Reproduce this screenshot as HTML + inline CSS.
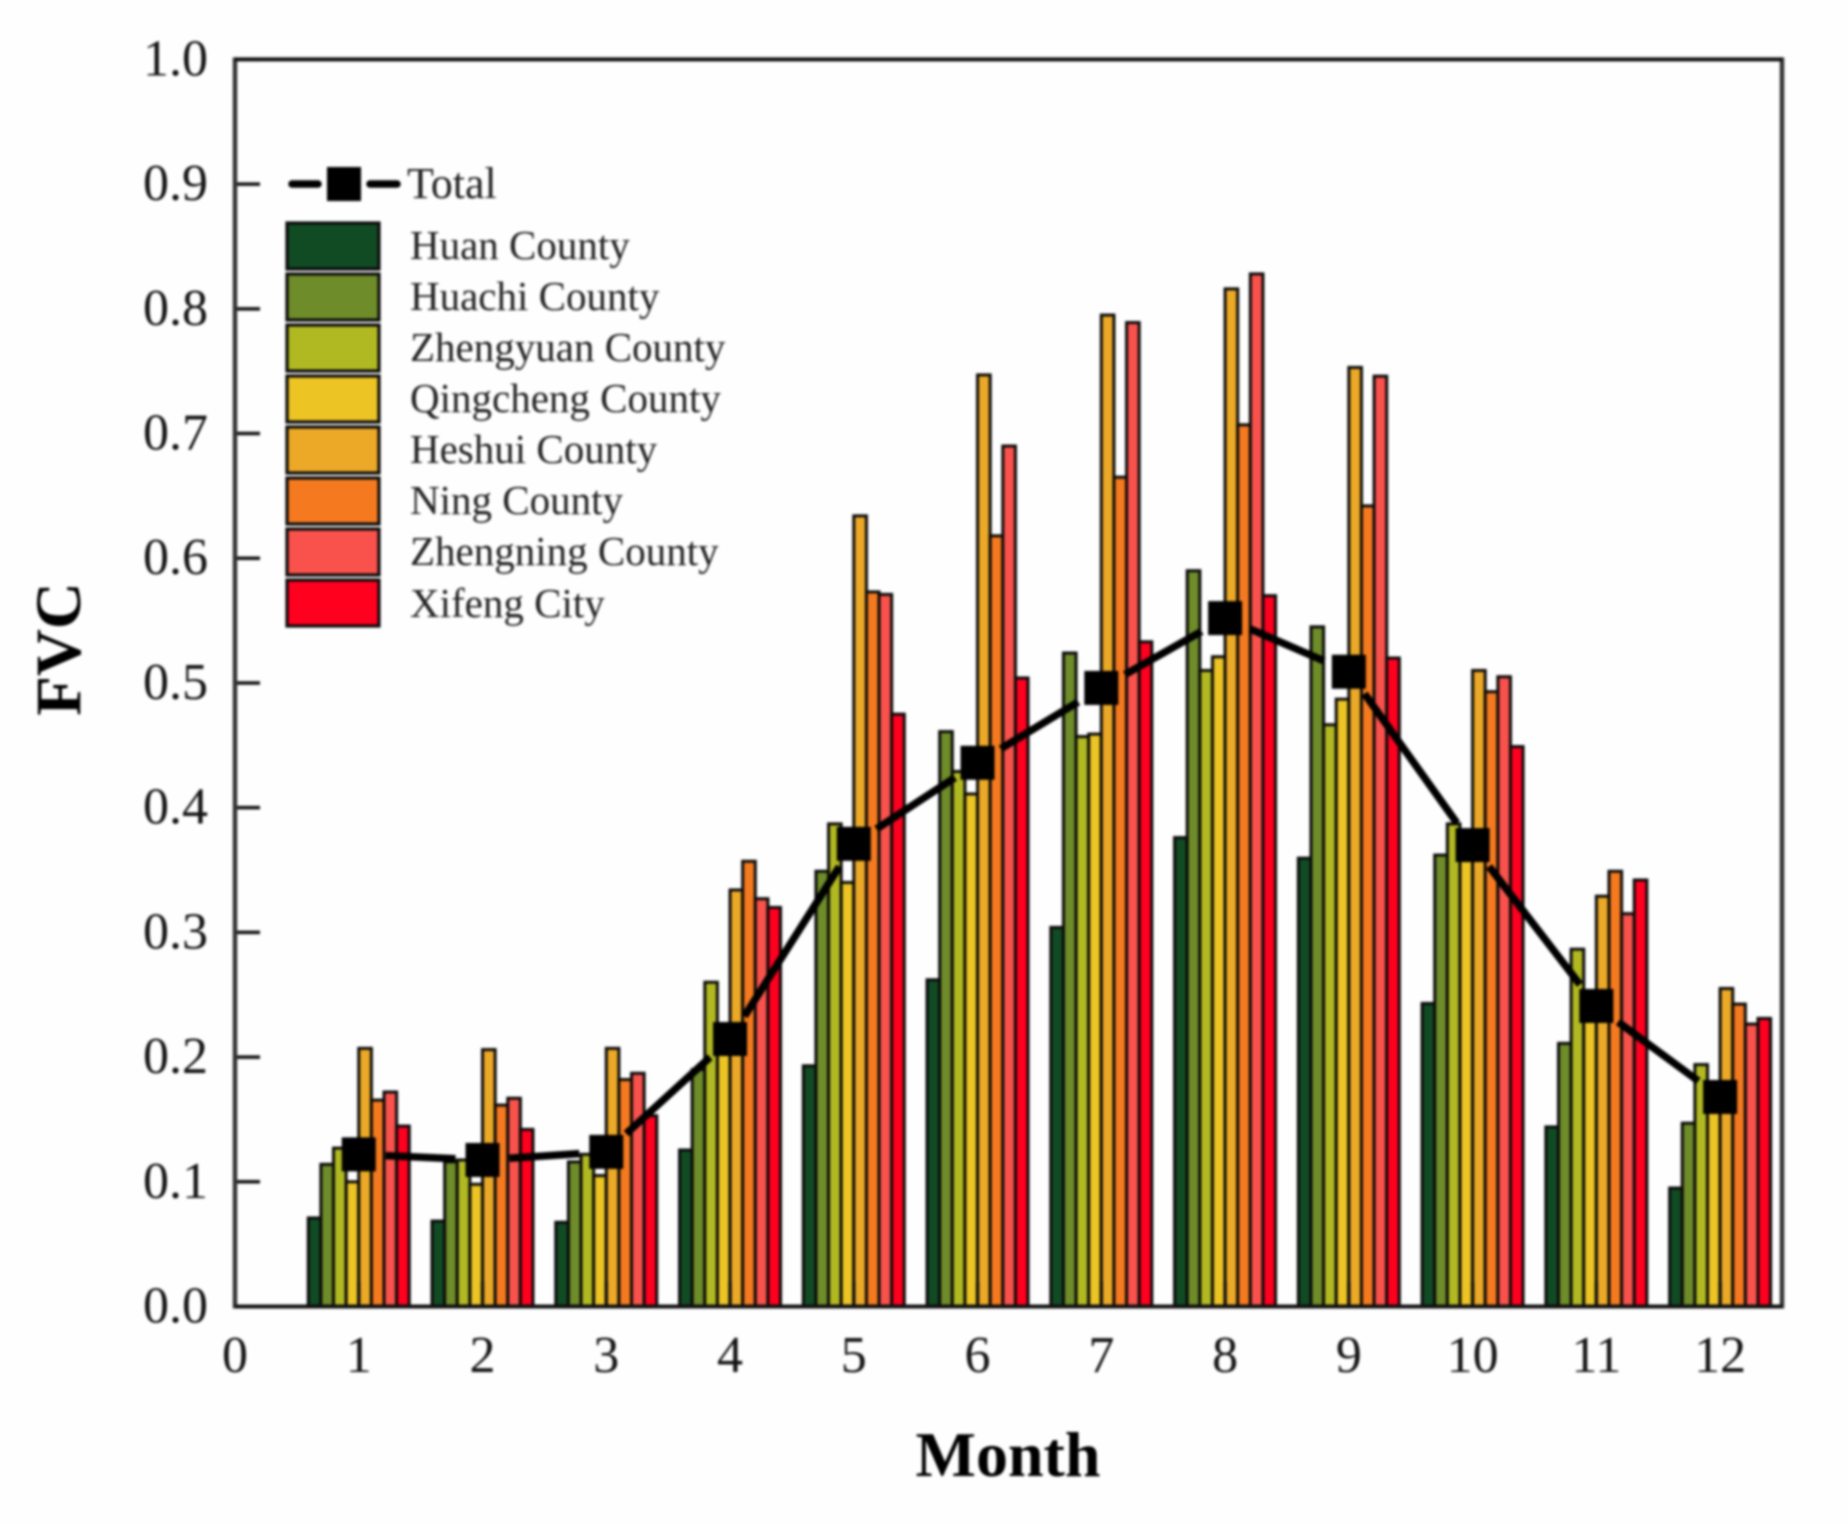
<!DOCTYPE html>
<html lang="en">
<head>
<meta charset="utf-8">
<title>FVC by Month</title>
<style>
  html, body { margin: 0; padding: 0; background: #fefefe; }
  body { width: 1848px; height: 1524px; overflow: hidden; }
  #chart { display: block; width: 1848px; height: 1524px; filter: blur(1.25px); }
  text { font-family: "Liberation Serif", "Times New Roman", serif; fill: #141414; }
  .tick-label { font-size: 52px; }
  .legend-label { font-size: 41px; fill: #222; }
  .axis-title { font-size: 64px; font-weight: bold; fill: #000; }
  .bar, .swatch { stroke: #0a0a0a; stroke-width: 3; }
  .swatch { stroke-width: 3.2; }
  .s0 { fill: #114b24; } .s1 { fill: #6e8c29; } .s2 { fill: #b1b922; } .s3 { fill: #ecc424; }
  .s4 { fill: #eca927; } .s5 { fill: #f57a1f; } .s6 { fill: #f9524c; } .s7 { fill: #ff001f; }
  .tick { stroke: #111; stroke-width: 3.5; }
  .total-line { stroke: #000; stroke-width: 7.5; fill: none; }
  .total-marker { fill: #000; }
</style>
</head>
<body>
<svg id="chart" xmlns="http://www.w3.org/2000/svg" width="1848" height="1524" viewBox="0 0 1848 1524">
  <rect x="0" y="0" width="1848" height="1524" fill="#fefefe"></rect>
  <g id="bars"></g>
  <g id="axes"></g>
  <g id="total-series"></g>

  <text class="axis-title" x="1008" y="1476" text-anchor="middle">Month</text>
  <text class="axis-title" style="font-size:65px" transform="translate(80 649) rotate(-90)" text-anchor="middle">FVC</text>

  <g>
    <g>
      <line class="total-line" x1="292" y1="184" x2="318" y2="184" stroke-linecap="round"></line>
      <line class="total-line" x1="370" y1="184" x2="397" y2="184" stroke-linecap="round"></line>
      <rect class="total-marker" x="327" y="167" width="34" height="34"></rect>
      <text class="legend-label" style="font-size:44px" x="407" y="198">Total</text>
    </g>
    <g>
      <rect class="swatch s0" x="287" y="223" width="92" height="46"></rect>
      <text class="legend-label" x="410" y="259">Huan County</text>
    </g>
    <g>
      <rect class="swatch s1" x="287" y="274" width="92" height="46"></rect>
      <text class="legend-label" x="410" y="310">Huachi County</text>
    </g>
    <g>
      <rect class="swatch s2" x="287" y="325" width="92" height="46"></rect>
      <text class="legend-label" x="410" y="361">Zhengyuan County</text>
    </g>
    <g>
      <rect class="swatch s3" x="287" y="376" width="92" height="46"></rect>
      <text class="legend-label" x="410" y="412">Qingcheng County</text>
    </g>
    <g>
      <rect class="swatch s4" x="287" y="427" width="92" height="46"></rect>
      <text class="legend-label" x="410" y="463">Heshui County</text>
    </g>
    <g>
      <rect class="swatch s5" x="287" y="478" width="92" height="46"></rect>
      <text class="legend-label" x="410" y="514">Ning County</text>
    </g>
    <g>
      <rect class="swatch s6" x="287" y="529" width="92" height="46"></rect>
      <text class="legend-label" x="410" y="565">Zhengning County</text>
    </g>
    <g>
      <rect class="swatch s7" x="287" y="580" width="92" height="46"></rect>
      <text class="legend-label" x="410" y="617">Xifeng City</text>
    </g>
  </g>
</svg>

<script>
const months = [1, 2, 3, 4, 5, 6, 7, 8, 9, 10, 11, 12];
const huanCounty = [0.071, 0.0685, 0.0675, 0.1255, 0.193, 0.262, 0.304, 0.376, 0.3595, 0.243, 0.144, 0.095];
const huachiCounty = [0.114, 0.116, 0.116, 0.19, 0.349, 0.461, 0.524, 0.590, 0.545, 0.362, 0.211, 0.147];
const zhengyuanCounty = [0.127, 0.1175, 0.122, 0.260, 0.387, 0.429, 0.457, 0.510, 0.4665, 0.387, 0.2865, 0.194];
const qingchengCounty = [0.100, 0.098, 0.105, 0.21, 0.340, 0.411, 0.459, 0.521, 0.487, 0.36, 0.24, 0.165];
const heshuiCounty = [0.207, 0.206, 0.207, 0.334, 0.634, 0.747, 0.795, 0.816, 0.753, 0.510, 0.329, 0.255];
const ningCounty = [0.1655, 0.1615, 0.182, 0.357, 0.573, 0.618, 0.665, 0.707, 0.642, 0.493, 0.349, 0.2425];
const zhengningCounty = [0.172, 0.167, 0.187, 0.327, 0.571, 0.690, 0.789, 0.828, 0.746, 0.505, 0.315, 0.2265];
const xifengCity = [0.1447, 0.142, 0.153, 0.320, 0.475, 0.504, 0.533, 0.570, 0.520, 0.449, 0.342, 0.231];
const totalFvc = [0.122, 0.1175, 0.124, 0.2145, 0.371, 0.436, 0.496, 0.552, 0.509, 0.370, 0.241, 0.168];
const seriesValues = [huanCounty, huachiCounty, zhengyuanCounty, qingchengCounty, heshuiCounty, ningCounty, zhengningCounty, xifengCity];
const seriesNames = ['huan-county', 'huachi-county', 'zhengyuan-county', 'qingcheng-county', 'heshui-county', 'ning-county', 'zhengning-county', 'xifeng-city'];
const xTickLabels = ['0', '1', '2', '3', '4', '5', '6', '7', '8', '9', '10', '11', '12'];
const yTickLabels = ['0.0', '0.1', '0.2', '0.3', '0.4', '0.5', '0.6', '0.7', '0.8', '0.9', '1.0'];

const SVG_NS = 'http://www.w3.org/2000/svg';
const plotLeft = 235, plotRight = 1782, plotTop = 59.4, plotBottom = 1306.5;
const xMax = 12.5, yMax = 1.0;
const groupWidth = 0.816;
const tickLength = 25, markerSize = 34, lineGap = 27;

function xScale(v) { return plotLeft + (v / xMax) * (plotRight - plotLeft); }
function yScale(v) { return plotBottom - (v / yMax) * (plotBottom - plotTop); }

function make(tag, attrs, parent) {
  const el = document.createElementNS(SVG_NS, tag);
  for (const k in attrs) el.setAttribute(k, attrs[k]);
  parent.appendChild(el);
  return el;
}

const barsLayer = document.getElementById('bars');
const barUnit = groupWidth / seriesValues.length;
seriesValues.forEach(function (values, s) {
  const group = make('g', {}, barsLayer);
  
  
  values.forEach(function (v, i) {
    const x0 = xScale(months[i] - groupWidth / 2 + s * barUnit);
    const x1 = xScale(months[i] - groupWidth / 2 + (s + 1) * barUnit);
    const bar = make('rect', { x: x0, y: yScale(v), width: x1 - x0, height: yScale(0) - yScale(v), class: 'bar s' + s }, group);
    
    
  });
});

const axesLayer = document.getElementById('axes');
xTickLabels.forEach(function (label) {
  const x = xScale(Number(label));
  const tick = make('line', { x1: x, x2: x, y1: plotBottom, y2: plotBottom - tickLength, class: 'tick' }, axesLayer);
  
  
  const text = make('text', { x: x, y: 1372, 'text-anchor': 'middle', class: 'tick-label' }, axesLayer);
  text.textContent = label;
  
  
});
yTickLabels.forEach(function (label) {
  const y = yScale(Number(label));
  const tick = make('line', { x1: plotLeft, x2: plotLeft + tickLength, y1: y, y2: y, class: 'tick' }, axesLayer);
  
  
  const text = make('text', { x: 208, y: y + 16, 'text-anchor': 'end', class: 'tick-label' }, axesLayer);
  text.textContent = label;
  
  
});
const frameLeft = make('line', { x1: plotLeft, x2: plotLeft, y1: plotTop - 2, y2: plotBottom + 2, stroke: '#333', 'stroke-width': 4.5 }, axesLayer);


const frameRight = make('line', { x1: plotRight, x2: plotRight, y1: plotTop - 2, y2: plotBottom + 2, stroke: '#333', 'stroke-width': 4.5 }, axesLayer);


const frameTop = make('line', { x1: plotLeft, x2: plotRight, y1: plotTop, y2: plotTop, stroke: '#111', 'stroke-width': 4 }, axesLayer);


const frameBottom = make('line', { x1: plotLeft, x2: plotRight, y1: plotBottom, y2: plotBottom, stroke: '#111', 'stroke-width': 4 }, axesLayer);



const totalLayer = document.getElementById('total-series');
for (let i = 0; i < totalFvc.length - 1; i++) {
  const ax = xScale(months[i]), ay = yScale(totalFvc[i]);
  const bx = xScale(months[i + 1]), by = yScale(totalFvc[i + 1]);
  const len = Math.hypot(bx - ax, by - ay);
  const ux = (bx - ax) / len, uy = (by - ay) / len;
  const seg = make('line', {
    x1: ax + ux * lineGap, y1: ay + uy * lineGap,
    x2: bx - ux * lineGap, y2: by - uy * lineGap,
    class: 'total-line'
  }, totalLayer);
  
  
}
totalFvc.forEach(function (v, i) {
  const marker = make('rect', {
    x: xScale(months[i]) - markerSize / 2,
    y: yScale(v) - markerSize / 2,
    width: markerSize, height: markerSize,
    class: 'total-marker'
  }, totalLayer);
  
  
});
</script>
</body>
</html>
